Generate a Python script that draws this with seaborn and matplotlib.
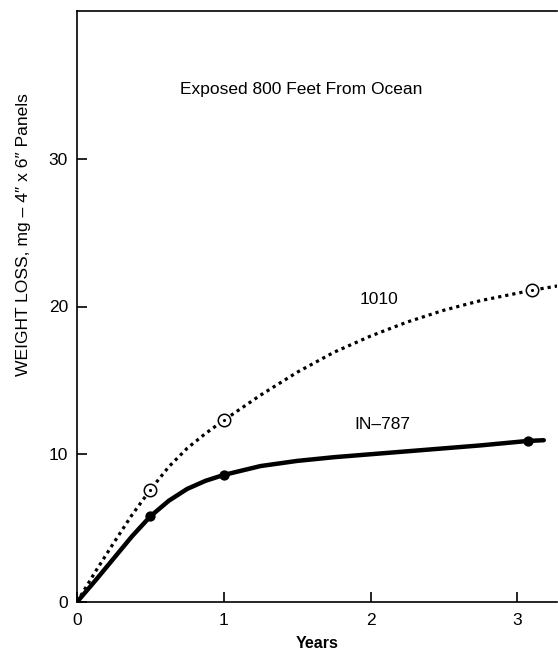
import matplotlib
matplotlib.use("Agg")
import matplotlib.pyplot as plt
import seaborn as sns
import pandas as pd

# ---- data ----
years_1010 = [0, 0.125, 0.25, 0.375, 0.5, 0.625, 0.75, 0.875, 1.0, 1.25,
              1.5, 1.75, 2.0, 2.25, 2.5, 2.75, 3.1, 3.28]
loss_1010 = [0, 2.05, 4.0, 5.9, 7.6, 9.15, 10.4, 11.4, 12.3, 14.0,
             15.55, 16.9, 18.0, 18.95, 19.75, 20.4, 21.1, 21.4]
years_in787 = [0, 0.125, 0.25, 0.375, 0.5, 0.625, 0.75, 0.875, 1.0, 1.25,
               1.5, 1.75, 2.0, 2.25, 2.5, 2.75, 3.07, 3.18]
loss_in787 = [0, 1.45, 2.95, 4.45, 5.8, 6.85, 7.65, 8.2, 8.6, 9.2,
              9.55, 9.8, 10.0, 10.2, 10.4, 10.6, 10.9, 10.95]

pts_1010_x = [0.5, 1.0, 3.1]
pts_1010_y = [7.6, 12.3, 21.1]
pts_in787_x = [0.5, 1.0, 3.07]
pts_in787_y = [5.8, 8.6, 10.9]

x_ticks = [0, 1, 2, 3]
y_ticks = [0, 10, 20, 30]

title_text = "Exposed 800 Feet From Ocean"
label_1010 = "1010"
label_in787 = "IN–787"
x_label = "Years"
y_label = "WEIGHT LOSS, mg – 4\u2033 x 6\u2033 Panels"

sns.set_theme(style="ticks")
plt.rcParams["font.family"] = ["Liberation Sans", "DejaVu Sans"]

fig = plt.figure(figsize=(5.58, 6.5), dpi=100)
ax = fig.add_axes([77 / 558, 48 / 650, 480 / 558, 591 / 650])

df1 = pd.DataFrame({"x": years_1010, "y": loss_1010})
df2 = pd.DataFrame({"x": years_in787, "y": loss_in787})

sns.lineplot(data=df1, x="x", y="y", ax=ax, color="black", lw=2.3,
             sort=False, estimator=None)
ax.lines[-1].set_linestyle((0, (1, 1.25)))
ax.lines[-1].set_dash_capstyle("butt")
sns.lineplot(data=df2, x="x", y="y", ax=ax, color="black", lw=3.2,
             sort=False, estimator=None)
ax.lines[-1].set_solid_joinstyle("round")

p1 = pd.DataFrame({"x": pts_1010_x, "y": pts_1010_y})
p2 = pd.DataFrame({"x": pts_in787_x, "y": pts_in787_y})
sns.scatterplot(data=p1, x="x", y="y", ax=ax, s=80, facecolor="white",
                edgecolor="black", linewidth=1.1, zorder=5)
sns.scatterplot(data=p1, x="x", y="y", ax=ax, s=5, color="black",
                linewidth=0, zorder=6)
sns.scatterplot(data=p2, x="x", y="y", ax=ax, s=55, color="black",
                linewidth=0, zorder=5)

ax.set_xlim(0, 3.27)
ax.set_ylim(0, 40)
ax.set_xticks(x_ticks)
ax.set_yticks(y_ticks)
ax.set_xticklabels([str(t) for t in x_ticks])
ax.set_yticklabels([str(t) for t in y_ticks])
ax.tick_params(axis="both", direction="in", length=7, width=1.2,
               labelsize=12.5, colors="black")
ax.tick_params(axis="x", pad=8)
ax.tick_params(axis="y", pad=6.5)

for s in ["left", "bottom", "top"]:
    ax.spines[s].set_color("black")
    ax.spines[s].set_linewidth(1.2)
ax.spines["right"].set_visible(False)

ax.set_xlabel(x_label, fontsize=11.5, fontweight="bold", color="black")
ax.xaxis.set_label_coords(0.5, -0.058)
ax.set_ylabel(y_label, fontsize=12.6, color="black")
ax.yaxis.set_label_coords(-0.096, 0.621)

ax.text(1.53, 34.7, title_text, ha="center", va="center", fontsize=12.5,
        color="black")
ax.text(2.06, 20.5, label_1010, ha="center", va="center", fontsize=12.5,
        color="black")
ax.text(2.08, 12.0, label_in787, ha="center", va="center", fontsize=12.5,
        color="black")

fig.savefig("out.png", dpi=100, facecolor="white")
